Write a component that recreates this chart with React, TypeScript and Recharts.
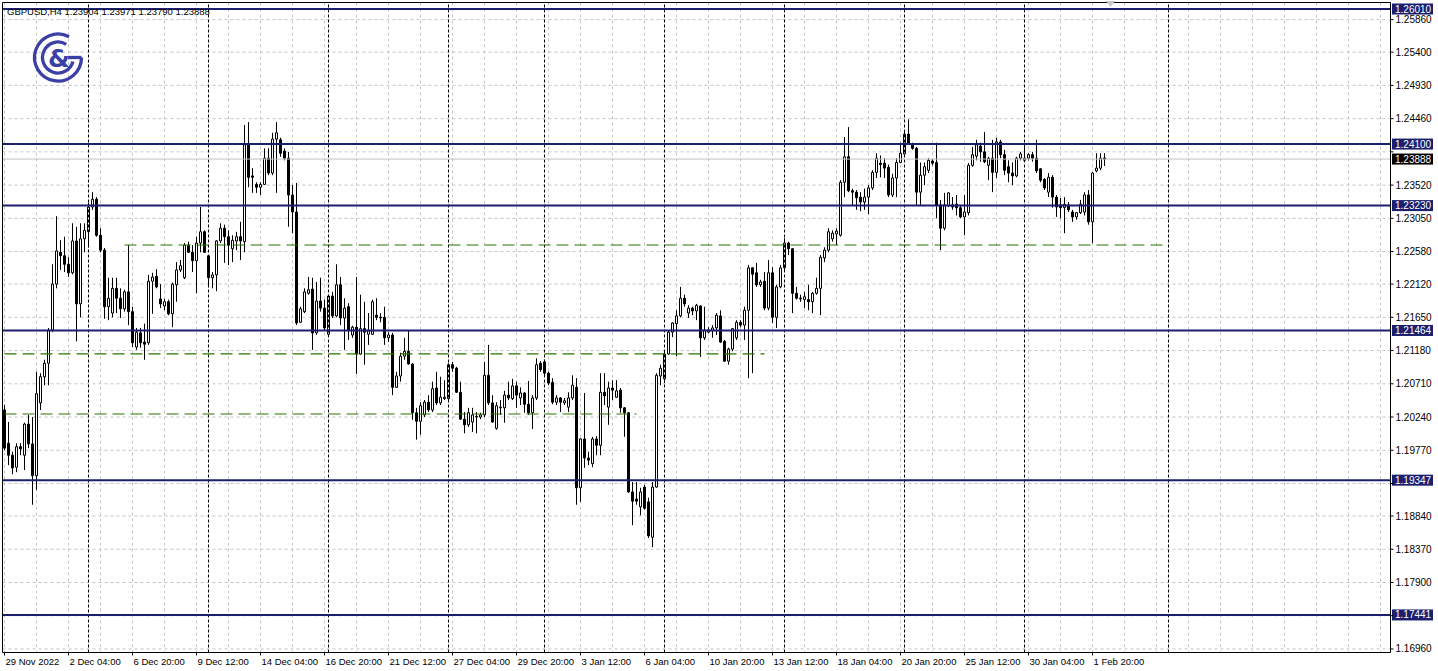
import React from 'react';
import { ComposedChart, Bar, XAxis, YAxis, CartesianGrid, ReferenceLine } from 'recharts';

// ---- GBPUSD H4 candles (29 Nov 2022 12:00 -> 2 Feb 2023) ----
const opens = [
1.2034,1.1987,1.1970,1.1953,1.1982,1.1970,1.2014,1.1986,1.1941,1.2044,1.2081,1.2100,1.2147,1.2212,1.2257,1.2252,1.2240,1.2228,1.2273,1.2184,
1.2276,1.2286,1.2321,1.2332,1.2281,1.2260,1.2180,1.2171,1.2206,1.2192,1.2177,1.2201,1.2173,1.2123,1.2143,1.2130,1.2129,1.2216,1.2223,1.2191,
1.2181,1.2187,1.2170,1.2211,1.2232,1.2221,1.2267,1.2257,1.2245,1.2270,1.2286,1.2252,1.2221,1.2225,1.2273,1.2291,1.2279,1.2262,1.2273,1.2279,
1.2272,1.2409,1.2365,1.2353,1.2349,1.2353,1.2390,1.2369,1.2417,1.2416,1.2400,1.2390,1.2338,1.2314,1.2158,1.2173,1.2199,1.2205,1.2143,1.2188,
1.2178,1.2141,1.2195,1.2167,1.2211,1.2164,1.2180,1.2140,1.2151,1.2113,1.2149,1.2141,1.2141,1.2168,1.2165,1.2165,1.2136,1.2140,1.2066,1.2082,
1.2110,1.2117,1.2099,1.2030,1.2018,1.2027,1.2045,1.2034,1.2065,1.2044,1.2050,1.2050,1.2098,1.2093,1.2059,1.2021,1.2013,1.2017,1.2024,1.2024,
1.2027,1.2083,1.2044,1.2008,1.2037,1.2037,1.2055,1.2050,1.2068,1.2051,1.2058,1.2042,1.2030,1.2051,1.2100,1.2102,1.2086,1.2073,1.2045,1.2051,
1.2044,1.2038,1.2051,1.2066,1.1924,1.1993,1.1966,1.1958,1.1993,1.1984,1.2059,1.2038,1.2065,1.2052,1.2062,1.2037,1.2030,1.1918,1.1908,1.1897,
1.1925,1.1904,1.1854,1.1925,1.2082,1.2078,1.2113,1.2144,1.2156,1.2167,1.2192,1.2171,1.2178,1.2174,1.2181,1.2136,1.2144,1.2146,1.2150,1.2167,
1.2131,1.2103,1.2120,1.2136,1.2158,1.2154,1.2175,1.2235,1.2228,1.2211,1.2216,1.2178,1.2228,1.2165,1.2208,1.2235,1.2270,1.2262,1.2199,1.2192,
1.2190,1.2190,1.2187,1.2199,1.2206,1.2249,1.2260,1.2276,1.2283,1.2281,1.2356,1.2392,1.2344,1.2342,1.2335,1.2328,1.2335,1.2348,1.2370,1.2383,
1.2383,1.2377,1.2338,1.2362,1.2384,1.2396,1.2424,1.2410,1.2404,1.2342,1.2366,1.2373,1.2386,1.2384,1.2324,1.2291,1.2323,1.2324,1.2325,1.2320,
1.2307,1.2313,1.2380,1.2393,1.2407,1.2399,1.2380,1.2390,1.2370,1.2413,1.2395,1.2378,1.2369,1.2365,1.2390,1.2387,1.2390,1.2395,1.2390,1.2375,
1.2360,1.2342,1.2363,1.2335,1.2324,1.2320,1.2324,1.2314,1.2307,1.2313,1.2314,1.2338,1.2300,1.2372,1.2376,1.23904,
];
const highs = [
1.2041,1.2017,1.1975,1.1987,1.1987,1.2016,1.2027,1.2024,1.2088,1.2086,1.2105,1.2150,1.2240,1.2308,1.2274,1.2279,1.2250,1.2298,1.2293,1.2298,
1.2298,1.2327,1.2342,1.2335,1.2291,1.2263,1.2221,1.2221,1.2221,1.2206,1.2204,1.2267,1.2180,1.2150,1.2150,1.2156,1.2225,1.2228,1.2233,1.2212,
1.2191,1.2190,1.2214,1.2243,1.2246,1.2270,1.2272,1.2267,1.2279,1.2321,1.2288,1.2253,1.2229,1.2274,1.2298,1.2296,1.2288,1.2281,1.2286,1.2300,
1.2437,1.2441,1.2376,1.2356,1.2356,1.2404,1.2404,1.2426,1.2441,1.2419,1.2404,1.2399,1.2352,1.2355,1.2180,1.2206,1.2222,1.2221,1.2215,1.2221,
1.2190,1.2197,1.2201,1.2240,1.2222,1.2192,1.2185,1.2153,1.2222,1.2197,1.2187,1.2171,1.2190,1.2192,1.2171,1.2180,1.2144,1.2143,1.2088,1.2115,
1.2136,1.2146,1.2100,1.2037,1.2045,1.2048,1.2055,1.2074,1.2088,1.2081,1.2076,1.2100,1.2102,1.2095,1.2074,1.2031,1.2037,1.2037,1.2031,1.2030,
1.2102,1.2126,1.2055,1.2045,1.2048,1.2061,1.2074,1.2078,1.2074,1.2066,1.2059,1.2075,1.2055,1.2107,1.2103,1.2105,1.2088,1.2079,1.2055,1.2052,
1.2051,1.2059,1.2083,1.2079,1.1994,1.2058,1.1975,1.1996,1.1997,1.2086,1.2086,1.2074,1.2076,1.2076,1.2065,1.2038,1.2031,1.1932,1.1932,1.1924,
1.1928,1.1910,1.1932,1.2086,1.2098,1.2116,1.2147,1.2158,1.2175,1.2208,1.2197,1.2182,1.2180,1.2184,1.2182,1.2180,1.2151,1.2154,1.2171,1.2175,
1.2133,1.2122,1.2150,1.2161,1.2161,1.2180,1.2239,1.2236,1.2242,1.2218,1.2229,1.2246,1.2236,1.2211,1.2239,1.2277,1.2272,1.2263,1.2208,1.2197,
1.2201,1.2211,1.2201,1.2221,1.2253,1.2264,1.2291,1.2288,1.2291,1.2359,1.2420,1.2434,1.2347,1.2345,1.2342,1.2347,1.2352,1.2373,1.2397,1.2394,
1.2390,1.2381,1.2368,1.2390,1.2412,1.2427,1.2445,1.2412,1.2406,1.2384,1.2384,1.2390,1.2389,1.2412,1.2331,1.2341,1.2342,1.2335,1.2338,1.2324,
1.2338,1.2383,1.2406,1.2416,1.2412,1.2427,1.2392,1.2416,1.2419,1.2416,1.2402,1.2387,1.2384,1.2392,1.2399,1.2409,1.2397,1.2399,1.2416,1.2376,
1.2362,1.2369,1.2366,1.2338,1.2334,1.2335,1.2328,1.2317,1.2314,1.2331,1.2342,1.2345,1.2370,1.2397,1.2397,1.23971,
];
const lows = [
1.1977,1.1956,1.1943,1.1946,1.1970,1.1949,1.1980,1.1900,1.1921,1.2034,1.2069,1.2069,1.2144,1.2206,1.2232,1.2229,1.2222,1.2226,1.2131,1.2165,
1.2257,1.2264,1.2317,1.2279,1.2257,1.2163,1.2161,1.2165,1.2171,1.2164,1.2173,1.2154,1.2123,1.2119,1.2122,1.2105,1.2126,1.2170,1.2206,1.2178,
1.2175,1.2168,1.2151,1.2187,1.2229,1.2219,1.2256,1.2229,1.2199,1.2257,1.2256,1.2208,1.2206,1.2202,1.2270,1.2242,1.2239,1.2243,1.2260,1.2246,
1.2257,1.2349,1.2341,1.2341,1.2338,1.2352,1.2366,1.2366,1.2341,1.2392,1.2387,1.2293,1.2284,1.2154,1.2157,1.2171,1.2197,1.2119,1.2140,1.2173,
1.2147,1.2140,1.2164,1.2165,1.2154,1.2119,1.2133,1.2136,1.2085,1.2112,1.2098,1.2126,1.2140,1.2161,1.2158,1.2126,1.2130,1.2055,1.2065,1.2074,
1.2105,1.2098,1.2020,1.1992,1.1999,1.2024,1.2031,1.2031,1.2041,1.2041,1.2048,1.2048,1.2088,1.2058,1.2020,1.2001,1.2010,1.2003,1.2001,1.2021,
1.2024,1.2041,1.2016,1.2006,1.2027,1.2016,1.2048,1.2048,1.2037,1.2041,1.2030,1.2027,1.2007,1.2048,1.2088,1.2083,1.2069,1.2042,1.2041,1.2031,
1.2041,1.2031,1.2048,1.1900,1.1904,1.1952,1.1956,1.1953,1.1970,1.1970,1.2041,1.2013,1.2048,1.2051,1.2030,1.1996,1.1917,1.1871,1.1900,1.1885,
1.1893,1.1853,1.1840,1.1924,1.2069,1.2072,1.2112,1.2137,1.2110,1.2165,1.2180,1.2164,1.2168,1.2161,1.2109,1.2133,1.2143,1.2136,1.2140,1.2129,
1.2102,1.2098,1.2117,1.2133,1.2151,1.2133,1.2079,1.2086,1.2208,1.2208,1.2175,1.2175,1.2157,1.2150,1.2206,1.2232,1.2253,1.2171,1.2190,1.2187,
1.2178,1.2175,1.2171,1.2197,1.2168,1.2243,1.2257,1.2272,1.2267,1.2279,1.2335,1.2342,1.2324,1.2317,1.2315,1.2317,1.2311,1.2345,1.2362,1.2363,
1.2362,1.2335,1.2335,1.2335,1.2383,1.2395,1.2409,1.2402,1.2324,1.2324,1.2352,1.2369,1.2380,1.2305,1.2260,1.2288,1.2321,1.2317,1.2309,1.2305,
1.2281,1.2309,1.2378,1.2387,1.2385,1.2383,1.2359,1.2342,1.2362,1.2390,1.2366,1.2356,1.2352,1.2363,1.2387,1.2385,1.2387,1.2385,1.2369,1.2356,
1.2345,1.2335,1.2320,1.2307,1.2305,1.2284,1.2314,1.2300,1.2303,1.2311,1.2309,1.2296,1.2270,1.2370,1.2373,1.23790,
];
const closes = [
1.1980,1.1970,1.1952,1.1982,1.1979,1.2014,1.1986,1.1941,1.2057,1.2081,1.2100,1.2147,1.2212,1.2259,1.2252,1.2240,1.2228,1.2273,1.2184,1.2276,
1.2288,1.2321,1.2332,1.2281,1.2260,1.2180,1.2192,1.2206,1.2192,1.2177,1.2201,1.2173,1.2129,1.2144,1.2129,1.2127,1.2216,1.2222,1.2208,1.2184,
1.2187,1.2170,1.2212,1.2232,1.2238,1.2267,1.2257,1.2245,1.2270,1.2286,1.2257,1.2221,1.2225,1.2273,1.2291,1.2279,1.2267,1.2274,1.2279,1.2273,
1.2409,1.2363,1.2363,1.2349,1.2353,1.2390,1.2369,1.2417,1.2426,1.2397,1.2390,1.2338,1.2314,1.2157,1.2177,1.2201,1.2204,1.2143,1.2188,1.2178,
1.2150,1.2195,1.2167,1.2211,1.2164,1.2178,1.2147,1.2151,1.2113,1.2149,1.2144,1.2146,1.2187,1.2165,1.2164,1.2136,1.2140,1.2066,1.2082,1.2110,
1.2117,1.2099,1.2030,1.2018,1.2040,1.2045,1.2034,1.2064,1.2044,1.2052,1.2052,1.2098,1.2093,1.2059,1.2021,1.2013,1.2030,1.2027,1.2025,1.2027,
1.2083,1.2044,1.2017,1.2040,1.2038,1.2055,1.2051,1.2068,1.2055,1.2058,1.2042,1.2030,1.2051,1.2098,1.2091,1.2086,1.2072,1.2045,1.2051,1.2045,
1.2047,1.2051,1.2069,1.1924,1.1993,1.1966,1.1963,1.1993,1.1984,1.2059,1.2054,1.2065,1.2062,1.2061,1.2037,1.2030,1.1918,1.1905,1.1905,1.1918,
1.1895,1.1856,1.1925,1.2083,1.2093,1.2113,1.2144,1.2157,1.2167,1.2192,1.2184,1.2178,1.2174,1.2182,1.2136,1.2147,1.2147,1.2150,1.2168,1.2130,
1.2103,1.2120,1.2149,1.2158,1.2154,1.2175,1.2235,1.2226,1.2211,1.2215,1.2178,1.2228,1.2165,1.2208,1.2235,1.2270,1.2262,1.2199,1.2192,1.2191,
1.2194,1.2187,1.2199,1.2206,1.2250,1.2260,1.2286,1.2284,1.2287,1.2356,1.2392,1.2344,1.2342,1.2334,1.2328,1.2335,1.2348,1.2370,1.2390,1.2381,
1.2376,1.2338,1.2362,1.2384,1.2397,1.2424,1.2410,1.2404,1.2342,1.2366,1.2378,1.2387,1.2383,1.2324,1.2291,1.2324,1.2341,1.2321,1.2320,1.2307,
1.2314,1.2380,1.2395,1.2409,1.2399,1.2385,1.2390,1.2370,1.2413,1.2395,1.2373,1.2369,1.2365,1.2390,1.2396,1.2390,1.2395,1.2390,1.2372,1.2359,
1.2348,1.2363,1.2335,1.2321,1.2320,1.2325,1.2317,1.2307,1.2313,1.2325,1.2338,1.2300,1.2369,1.2376,1.2390,1.23888,
];

const xLabelIdx = [0, 16, 32, 48, 64, 80, 96, 112, 128, 144, 160, 176, 192, 208, 224, 240, 256, 272];
const xLabels = ['29 Nov 2022', '2 Dec 04:00', '6 Dec 20:00', '9 Dec 12:00', '14 Dec 04:00', '16 Dec 20:00',
  '21 Dec 12:00', '27 Dec 04:00', '29 Dec 20:00', '3 Jan 12:00', '6 Jan 04:00', '10 Jan 20:00',
  '13 Jan 12:00', '18 Jan 04:00', '20 Jan 20:00', '25 Jan 12:00', '30 Jan 04:00', '1 Feb 20:00'];
const yTicks = [1.2586, 1.2540, 1.2493, 1.2446, 1.2399, 1.2352, 1.2305, 1.2258, 1.2212, 1.2165,
  1.2118, 1.2071, 1.2024, 1.1977, 1.1930, 1.1884, 1.1837, 1.1790, 1.1743, 1.1696];
// tick labels hidden behind the level boxes on the price scale
const coveredTicks = [1.2399, 1.1930, 1.1743];
const navyLevels = [1.26010, 1.24100, 1.23230, 1.21464, 1.19347, 1.17441];
const navyLabels = ['1.26010', '1.24100', '1.23230', '1.21464', '1.19347', '1.17441'];
const greenLevels = [1.22673, 1.21132, 1.20283];
const greenStart = [30, 0, 0];
const greenEnd = [291, 190, 158];
const weekSeparators = [21, 51, 81, 111, 135, 165, 195, 225, 255, 291];
const currentPrice = 1.23888;
const headerText = 'GBPUSD,H4  1.23904 1.23971 1.23790 1.23888';

const N_SLOTS = 347;
const data = Array.from({ length: N_SLOTS }, (_, i) =>
  i < opens.length
    ? { i, o: opens[i], h: highs[i], l: lows[i], c: closes[i], range: [lows[i], highs[i]] }
    : { i });
const gridIdx = Array.from({ length: 44 }, (_, k) => k * 8);

const NAVY = '#1b1f6e';
const GREEN = '#2a7400';
const FONT = 'Liberation Sans, Arial, sans-serif';

const Candle = (props: any) => {
  const { x, y, width, height, payload } = props;
  if (!payload || payload.o == null) return null;
  const { o, h, l, c } = payload;
  const k = h - l > 0 ? height / (h - l) : 0;
  const cx = x + width / 2;
  const yO = y + (h - o) * k;
  const yC = y + (h - c) * k;
  const top = Math.min(yO, yC);
  const bh = Math.abs(yO - yC);
  const bull = c >= o;
  return (
    <g>
      <line x1={cx} x2={cx} y1={y} y2={y + height} stroke="#000" strokeWidth={1} />
      <path d={`M${cx - 1},${top}h2v${bh}h-2Z`} fill={bull ? '#fff' : '#000'} stroke="#000" strokeWidth={1} />
    </g>
  );
};

const XTick = (props: any) => {
  const { x, y, payload } = props;
  const idx = xLabelIdx.indexOf(payload.value);
  if (idx < 0) return null;
  return (
    <g>
      <line x1={x} x2={x} y1={y} y2={y + 3} stroke="#000" />
      <text x={x + 1} y={y + 12} fontSize={9.5} fontFamily={FONT} fill="#000" textAnchor="start">{xLabels[idx]}</text>
    </g>
  );
};

const YTick = (props: any) => {
  const { x, y, payload } = props;
  const v = Number(payload.value);
  if (coveredTicks.some((t) => Math.abs(t - v) < 1e-6)) return null;
  return (
    <text x={x} y={y + 3.5} fontSize={10} fontFamily={FONT} fill="#000" textAnchor="start">
      {v.toFixed(5)}
    </text>
  );
};

const boxLabel = (text: string, fill: string) => (props: any) => {
  const vb = props.viewBox || {};
  const x0 = (vb.x ?? 0) + (vb.width ?? 0) + 1.5;
  const yc = vb.y ?? 0;
  return (
    <g>
      <rect x={x0} y={yc - 5.5} width={41} height={11} fill={fill} />
      <text x={x0 + 3} y={yc + 3.5} fontSize={10} fontFamily={FONT} fill="#fff">{text}</text>
    </g>
  );
};

const arcPath = (cx: number, cy: number, r: number, a1: number, a2: number) => {
  const rad = Math.PI / 180;
  const sx = cx + r * Math.cos(a1 * rad), sy = cy + r * Math.sin(a1 * rad);
  const ex = cx + r * Math.cos(a2 * rad), ey = cy + r * Math.sin(a2 * rad);
  return `M${sx},${sy} A${r},${r} 0 1 0 ${ex},${ey}`;
};

export default function App() {
  const LOGO = '#3b3fa6';
  return (
    <div style={{ position: 'absolute', left: 0, top: 0, width: 1438, height: 671, background: '#fff' }}>
      <ComposedChart
        width={1438}
        height={671}
        data={data}
        margin={{ top: 2.5, right: 0, left: 2.5, bottom: 0 }}
        barCategoryGap={0}
        barGap={0}
      >
        <CartesianGrid stroke="#c4c4c4" strokeDasharray="3 3" />
        <XAxis
          dataKey="i"
          type="category"
          ticks={gridIdx}
          interval={0}
          height={18.5}
          tickSize={0}
          tickMargin={0}
          tickLine={false}
          axisLine={{ stroke: '#000' }}
          tick={<XTick />}
        />
        <YAxis
          orientation="right"
          type="number"
          width={47.5}
          domain={[1.1691, 1.26102]}
          allowDataOverflow
          ticks={yTicks}
          interval={0}
          tickSize={3}
          tickMargin={2}
          axisLine={{ stroke: '#000' }}
          tickLine={{ stroke: '#000' }}
          tick={<YTick />}
        />
        {weekSeparators.map((s) => (
          <ReferenceLine key={'w' + s} x={s} stroke="#000" strokeDasharray="3 2" strokeWidth={1} ifOverflow="visible" />
        ))}
        <ReferenceLine y={currentPrice} stroke="#c0c0c0" strokeWidth={1} />
        {greenLevels.map((g, k) => (
          <ReferenceLine
            key={'g' + k}
            segment={[{ x: greenStart[k], y: g }, { x: greenEnd[k], y: g }]}
            stroke={GREEN}
            strokeDasharray="12 6"
            strokeWidth={1.2}
          />
        ))}
        <Bar dataKey="range" shape={<Candle />} isAnimationActive={false} />
        {navyLevels.map((lv, k) => (
          <ReferenceLine key={'n' + k} y={lv} stroke={NAVY} strokeWidth={2} label={boxLabel(navyLabels[k], NAVY)} />
        ))}
        <ReferenceLine y={currentPrice} stroke="none" label={boxLabel('1.23888', '#000')} />
      </ComposedChart>
      <svg width={1438} height={671} style={{ position: 'absolute', left: 0, top: 0, pointerEvents: 'none' }}>
        <line x1={2.5} y1={2.5} x2={1390.5} y2={2.5} stroke="#000" />
        <line x1={2.5} y1={2.5} x2={2.5} y2={652.5} stroke="#000" />
        <path d="M1106,1 L1115,1 L1110.5,7 Z" fill="#c8c8c8" />
        <text x={7} y={15} fontSize={9.5} fontFamily={FONT} fill="#000">{headerText}</text>
        <g stroke={LOGO} fill="none" strokeWidth={3.3}>
          <path d={arcPath(58, 57.5, 23.5, -62, 0)} />
          <line x1={68} y1={57.5} x2={81.5} y2={57.5} />
          <path d={arcPath(58, 57.5, 15.5, -58, 15)} />
        </g>
        <text x={59} y={67} fontSize={25} fontWeight="bold" fontFamily="DejaVu Sans" textAnchor="middle" fill={LOGO}>&amp;</text>
      </svg>
    </div>
  );
}
